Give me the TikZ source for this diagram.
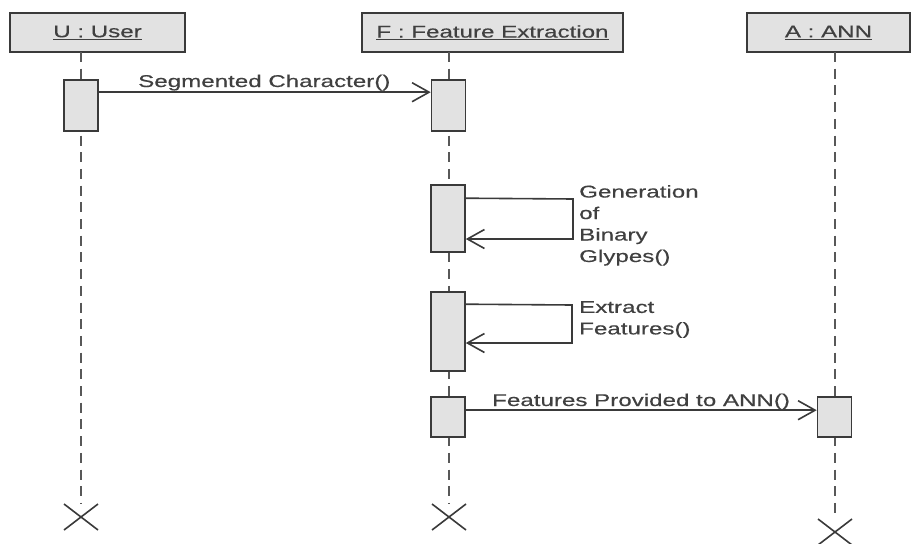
\documentclass[tikz,border=0pt]{standalone}
\usepackage{fontspec}
\usetikzlibrary{arrows.meta,calc}
\newfontfamily\umlfont[FakeStretch=1.42,FakeBold=0.4]{Liberation Sans}
\definecolor{inkline}{HTML}{3A3A3A}
\definecolor{inktext}{HTML}{404040}
\definecolor{boxfill}{HTML}{E2E2E2}
\tikzset{
  umltext/.style={font=\umlfont\fontsize{17}{21.5}\selectfont, text=inktext, inner sep=0pt},
  objbox/.style={draw=inkline, line width=1.8pt, fill=boxfill, minimum height=39pt, umltext},
  actbox/.style={draw=inkline, line width=1.6pt, fill=boxfill, minimum width=34pt},
  lifeline/.style={draw=inkline!85, line width=1.8pt, dash pattern=on 10pt off 6.7pt},
  msg/.style={draw=inkline, line width=1.6pt, -{Straight Barb[length=17pt,width=19pt,line width=1.6pt]}},
  endmark/.style={draw=inkline, line width=1.6pt},
}
\begin{document}
\begin{tikzpicture}[x=1pt,y=-1pt]
\useasboundingbox (0,0) rectangle (912,543);
\fill[white] (0,0) rectangle (912,543);

% object heads
\node[objbox, minimum width=175pt] (U) at (97.5,32.5) {\underline{U : User}};
\node[objbox, minimum width=261pt] (F) at (492.5,32.5) {\underline{F : Feature Extraction}};
\node[objbox, minimum width=163pt] (A) at (828.5,32.5) {\underline{A : ANN}};

% lifeline ends
\coordinate (Ut) at (81,52);   \coordinate (Ue) at (81,517);
\coordinate (Ft) at (449,52);  \coordinate (Fe) at (449,517);
\coordinate (At) at (835,52);  \coordinate (Ae) at (835,532);

\draw[lifeline] (Ut) -- ($(Ue)+(0,-14)$);
\draw[lifeline] (Ft) -- ($(Fe)+(0,-14)$);
\draw[lifeline] (At) -- ($(Ae)+(0,-14)$);

% activations
\node[actbox, minimum height=51pt] (u1) at (81,105.5) {};
\node[actbox, minimum height=51pt] (f1) at (448.5,105.5) {};
\node[actbox, minimum height=67pt] (f2) at (448,218.5) {};
\node[actbox, minimum height=79pt] (f3) at (448,331.5) {};
\node[actbox, minimum height=40pt] (f4) at (448,417) {};
\node[actbox, minimum height=40pt] (a1) at (834.5,417) {};

% messages
\draw[msg] ($(u1.north east)+(0,13)$) -- ($(f1.north west)+(0,13)$);
\node[umltext, anchor=base west] (m1) at (138,87) {Segmented Character()};

\coordinate (g1) at (573,199);
\coordinate (g2) at (573,239);
\draw[msg] ($(f2.north east)+(0,14)$) -- (g1) -- (g2) -- (f2.east |- g2);
\node[umltext, anchor=north west, align=left] (m2) at (579,185)
  {Generation\\of\\Binary\\Glypes()};

\coordinate (e1) at (572,305);
\coordinate (e2) at (572,343);
\draw[msg] ($(f3.north east)+(0,13)$) -- (e1) -- (e2) -- (f3.east |- e2);
\node[umltext, anchor=north west, align=left] (m3) at (579,301)
  {Extract\\Features()};

\draw[msg] ($(f4.north east)+(0,14)$) -- ($(a1.north west)+(0,14)$);
\node[umltext, anchor=base west] (m4) at (492,406) {Features Provided to ANN()};

% destruction marks
\foreach \p in {Ue,Fe,Ae}{
  \draw[endmark] ($(\p)+(-17,-13)$) -- ($(\p)+(17,13)$);
  \draw[endmark] ($(\p)+(-17,13)$) -- ($(\p)+(17,-13)$);
}
\end{tikzpicture}
\end{document}
